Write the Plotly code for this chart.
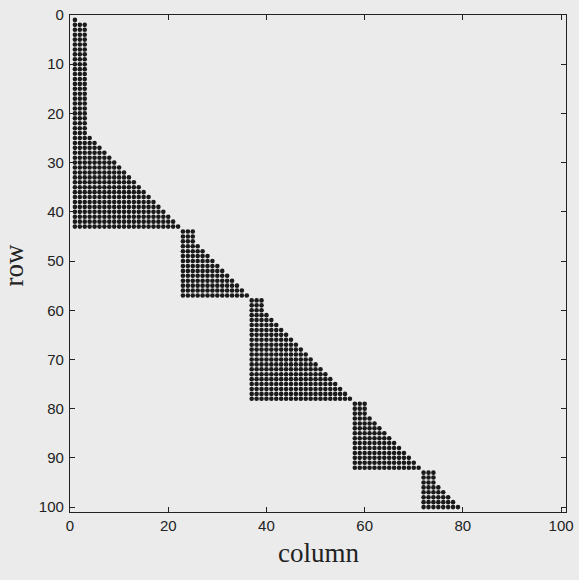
import plotly.graph_objects as go

# Sparsity pattern: for each row (1..100) the first and last nonzero column
rows = list(range(1, 101))
first_col = [
    1, 1, 1, 1, 1, 1, 1, 1, 1, 1, 1, 1, 1, 1, 1, 1, 1, 1, 1, 1,
    1, 1, 1, 1, 1, 1, 1, 1, 1, 1, 1, 1, 1, 1, 1, 1, 1, 1, 1, 1,
    1, 1, 1, 23, 23, 23, 23, 23, 23, 23, 23, 23, 23, 23, 23, 23, 23, 37, 37, 37,
    37, 37, 37, 37, 37, 37, 37, 37, 37, 37, 37, 37, 37, 37, 37, 37, 37, 37, 58, 58,
    58, 58, 58, 58, 58, 58, 58, 58, 58, 58, 58, 58, 72, 72, 72, 72, 72, 72, 72, 72,
]
last_col = [
    1, 3, 3, 3, 3, 3, 3, 3, 3, 3, 3, 3, 3, 3, 3, 3, 3, 3, 3, 3,
    3, 3, 3, 3, 4, 5, 6, 7, 8, 9, 10, 11, 12, 13, 14, 15, 16, 17, 18, 19,
    20, 21, 22, 25, 25, 25, 26, 27, 28, 29, 30, 31, 32, 33, 34, 35, 36, 39, 39, 39,
    40, 41, 42, 43, 44, 45, 46, 47, 48, 49, 50, 51, 52, 53, 54, 55, 56, 57, 60, 60,
    60, 61, 62, 63, 64, 65, 66, 67, 68, 69, 70, 71, 74, 74, 74, 75, 76, 77, 78, 79,
]
x_ticks = [0, 20, 40, 60, 80, 100]
y_ticks = [0, 10, 20, 30, 40, 50, 60, 70, 80, 90, 100]
n_size = 100

xs, ys = [], []
for r, a, b in zip(rows, first_col, last_col):
    for c in range(a, b + 1):
        xs.append(c)
        ys.append(r)

fig = go.Figure()
fig.add_trace(go.Scatter(
    x=xs, y=ys, mode="markers",
    marker=dict(symbol="circle", size=4.6, color="#1a1a1a", line=dict(width=0)),
    hoverinfo="skip", showlegend=False, cliponaxis=False,
))

axis_common = dict(
    showgrid=False, zeroline=False, showline=True, linecolor="#222", linewidth=1.2,
    mirror="ticks", ticks="inside", ticklen=5, tickwidth=1, tickcolor="#222",
    tickfont=dict(family="Liberation Sans, Arial, sans-serif", size=15, color="#222"),
    automargin=False,
)
fig.update_xaxes(range=[0, n_size + 1], tickvals=x_ticks, **axis_common)
fig.update_yaxes(range=[n_size + 1, 0], tickvals=y_ticks, ticklabelstandoff=2, **axis_common)

fig.add_annotation(text="column", xref="paper", yref="paper", x=0.5, y=-0.083,
                   showarrow=False, xanchor="center", yanchor="middle",
                   font=dict(family="Liberation Serif, Times New Roman, serif", size=27, color="#222"))
fig.add_annotation(text="row", xref="paper", yref="paper", x=-0.112, y=0.497,
                   showarrow=False, xanchor="center", yanchor="middle", textangle=-90,
                   font=dict(family="Liberation Serif, Times New Roman, serif", size=27, color="#222"))

fig.update_layout(
    width=579, height=580,
    margin=dict(l=70, r=13, t=15, b=68),
    paper_bgcolor="#ebebeb", plot_bgcolor="#ebebeb",
)
fig.write_html("out.html", config={"displayModeBar": False},
               post_script="document.body.style.margin='0px';document.body.style.background='#ebebeb';")
